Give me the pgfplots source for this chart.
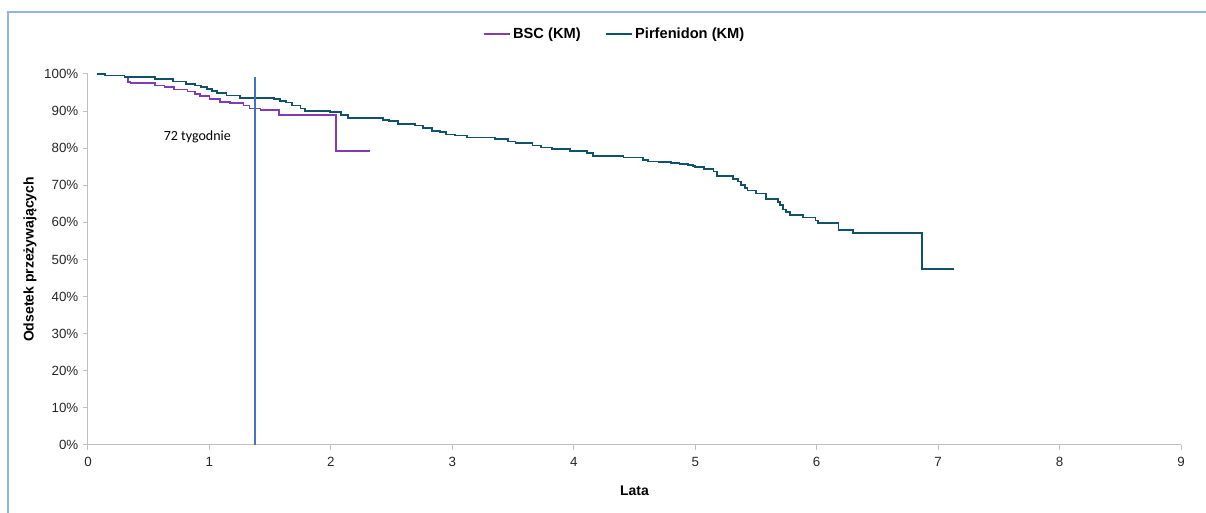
\documentclass[border=0pt]{standalone}
\usepackage{pgfplots}
\pgfplotsset{compat=1.18}
\usepackage{fontspec}
\setmainfont{Liberation Sans}
\newfontfamily\calibri{Carlito}
\definecolor{bsc}{RGB}{128,60,180}
\definecolor{pirf}{RGB}{16,82,108}
\definecolor{axgray}{RGB}{191,191,191}
\definecolor{vline}{RGB}{68,114,196}
\definecolor{framec}{RGB}{141,180,226}

\pgfplotstableread{
x y
0.07 100
0.14 99.6
0.30 99.2
0.33 97.8
0.35 97.6
0.55 96.9
0.63 96.4
0.71 95.8
0.82 95.3
0.88 94.5
0.92 94.0
1.00 93.3
1.09 92.5
1.17 92.1
1.28 91.5
1.33 90.7
1.42 90.3
1.57 88.9
2.04 79.2
2.32 79.2
}\bsc

\pgfplotstableread{
x y
0.07 100
0.14 99.6
0.30 99.2
0.55 98.7
0.70 98.0
0.81 97.4
0.88 96.9
0.93 96.4
0.98 95.9
1.02 95.4
1.06 94.8
1.14 94.2
1.25 93.6
1.53 93.3
1.58 92.8
1.63 92.3
1.68 91.5
1.75 90.7
1.79 90.1
1.99 89.8
2.08 88.9
2.14 88.2
2.43 87.6
2.48 87.3
2.55 86.5
2.69 86.1
2.76 85.4
2.83 84.7
2.90 84.3
2.95 83.7
3.02 83.4
3.12 82.9
3.35 82.4
3.46 81.8
3.52 81.3
3.66 80.7
3.73 80.2
3.82 79.8
3.97 79.3
4.11 78.6
4.16 78.0
4.41 77.5
4.57 76.8
4.61 76.4
4.70 76.2
4.80 76.0
4.87 75.7
4.94 75.4
4.98 75.2
5.00 74.9
5.07 74.4
5.15 73.7
5.18 72.6
5.31 71.7
5.35 71.0
5.38 70.1
5.41 69.2
5.43 68.6
5.50 67.8
5.58 66.4
5.68 65.6
5.70 64.7
5.72 63.5
5.75 62.7
5.78 61.9
5.89 61.3
5.99 60.5
6.01 59.8
6.18 58.0
6.30 57.1
6.87 47.5
7.13 47.5
}\pirf

\begin{document}
\begin{tikzpicture}
\begin{axis}[
  scale only axis, width=819.75pt, height=278.25pt,
  at={(0pt,0pt)}, anchor=south west,
  xmin=0, xmax=9, ymin=0, ymax=100,
  axis lines=left,
  axis line style={-, draw=axgray, line width=0.75pt},
  xtick={0,1,...,9}, ytick={0,10,...,100},
  yticklabels={0\%,10\%,20\%,30\%,40\%,50\%,60\%,70\%,80\%,90\%,100\%},
  tick align=outside, major tick length=3.75pt,
  tick style={draw=axgray, line width=0.75pt},
  /pgf/number format/assume math mode=true,
  ticklabel style={font=\fontsize{10}{12}\selectfont, text=black!85},
  xticklabel style={yshift=-2pt},
  xlabel={Lata}, ylabel={Odsetek przeżywających},
  label style={font=\bfseries\fontsize{10.5}{12}\selectfont},
  xlabel style={at={(axis description cs:0.5,-0.124)}, anchor=center},
  ylabel style={at={(axis description cs:-0.0531,0.5)}, anchor=center},
  legend style={at={(0.482,1.108)}, anchor=center, draw=none, fill=none,
    font=\bfseries\fontsize{11}{13}\selectfont,
    /tikz/every even column/.append style={column sep=16pt}},
  legend columns=2,
  legend image code/.code={\draw[#1] (0pt,0pt) -- (19.5pt,0pt);},
]
\addplot[const plot, bsc, line width=1.35pt] table[x=x,y=y] {\bsc};
\addlegendentry{BSC (KM)}
\addplot[const plot, pirf, line width=1.35pt] table[x=x,y=y] {\pirf};
\addlegendentry{Pirfenidon (KM)}
\addplot[vline, line width=0.9pt, forget plot] coordinates {(1.375,0) (1.375,99.2)};
\node[font=\calibri\fontsize{10.5}{12}\selectfont] at (axis cs:0.9,83) {72 tygodnie};
\end{axis}
\draw[framec, line width=1.1pt] (-60pt,-51pt) -- (-60pt,324.75pt) -- (838.5pt,324.75pt);
\pgfresetboundingbox
\useasboundingbox (-66pt,-51pt) rectangle (838.5pt,333.75pt);
\end{tikzpicture}
\end{document}
